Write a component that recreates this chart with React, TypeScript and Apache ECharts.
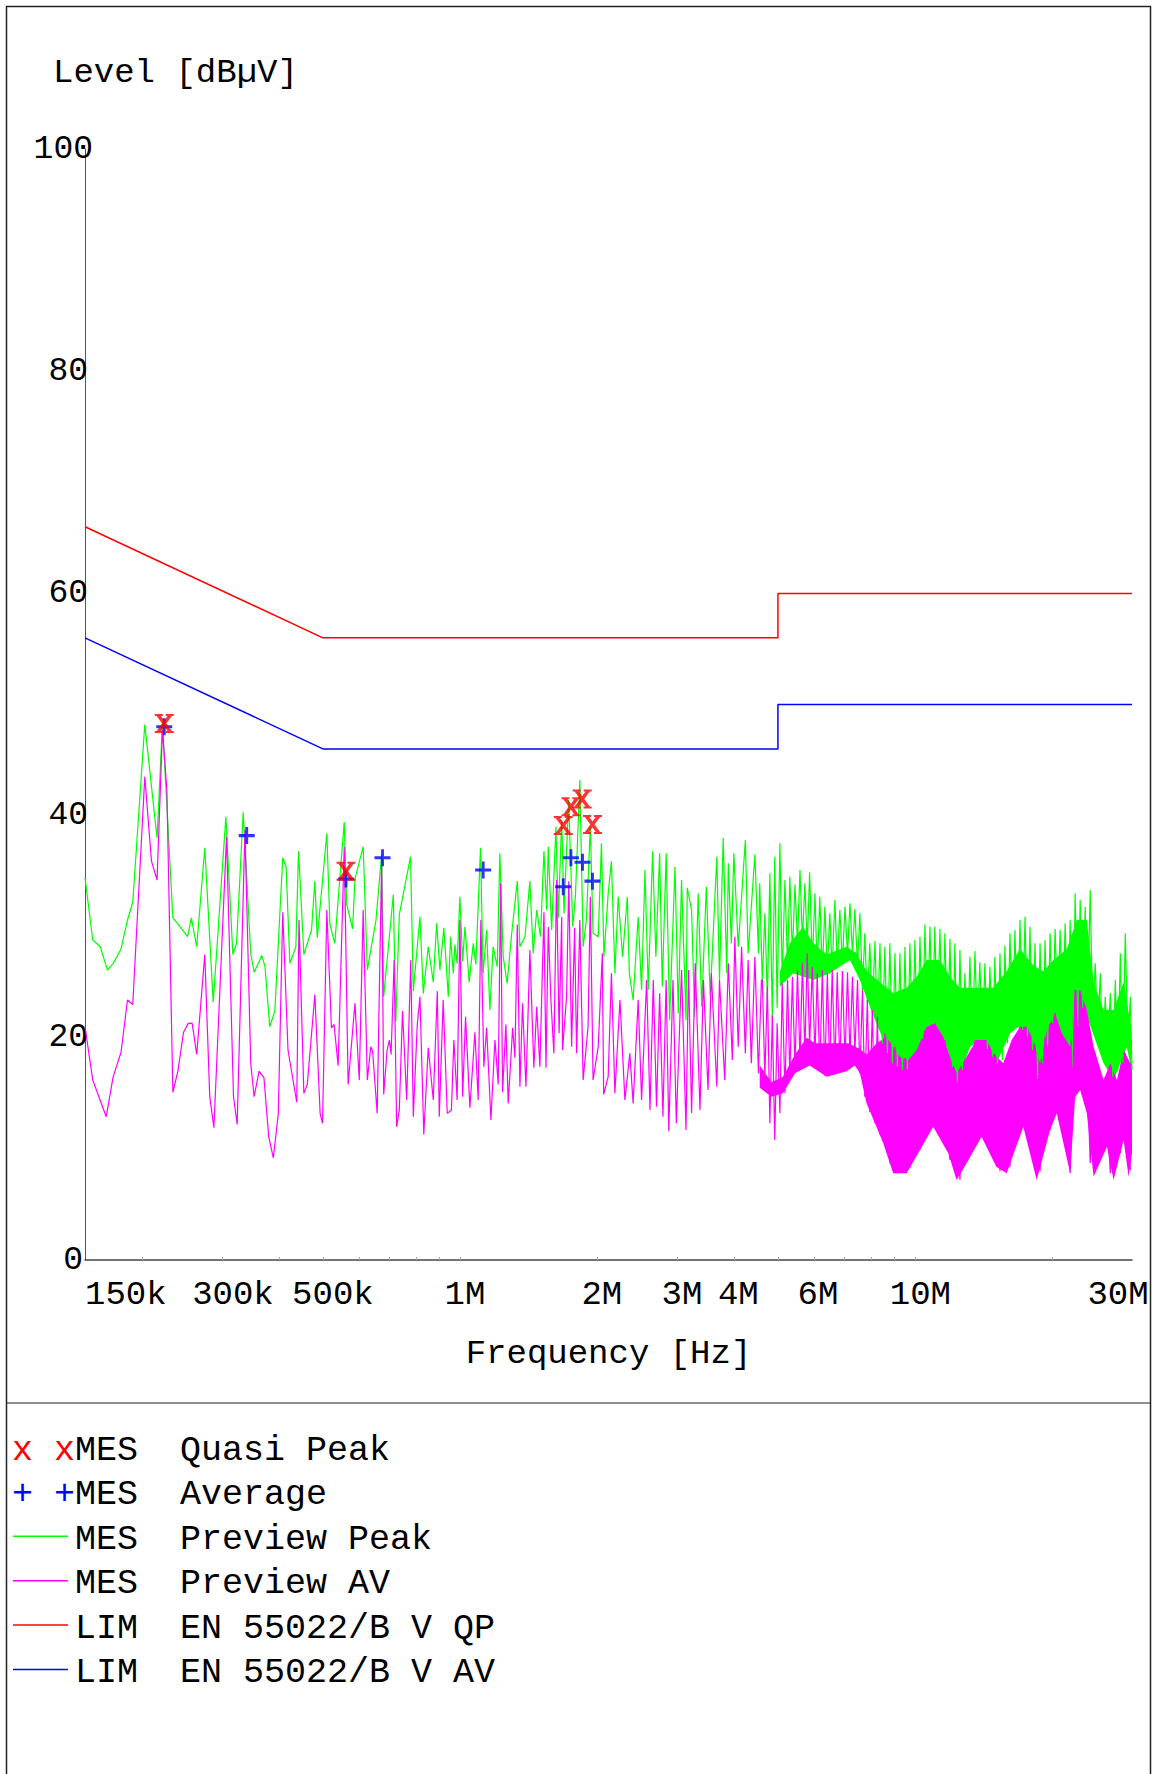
import React, { useEffect, useRef } from 'react';
import * as echarts from 'echarts';

// ---------- axis ticks ----------
const xTickHz = [150e3, 300e3, 500e3, 1e6, 2e6, 3e6, 4e6, 6e6, 10e6, 30e6];
const xTickText = ['150k', '300k', '500k', '1M', '2M', '3M', '4M', '6M', '10M', '30M'];
const xMinorTickHz = [200e3, 300e3, 400e3, 500e3, 600e3, 700e3, 800e3, 900e3, 1e6, 2e6, 3e6, 4e6, 5e6, 6e6, 7e6, 8e6, 9e6, 10e6, 20e6];

// ---------- limits (MHz, dBuV) ----------
const limitQP = [[0.15, 66], [0.5, 56], [5, 56], [5, 60], [30, 60]];
const limitAV = [[0.15, 56], [0.5, 46], [5, 46], [5, 50], [30, 50]];

// ---------- final measurements (MHz, dBuV) ----------
const qpMarks = [[0.224, 48.3], [0.562, 35.0], [1.687, 39.1], [1.754, 40.8], [1.857, 41.5], [1.956, 39.2]];
const avMarks = [[0.224, 48.0], [0.340, 38.2], [0.562, 34.3], [0.676, 36.2], [1.125, 35.1], [1.687, 33.6], [1.754, 36.2], [1.860, 35.8], [1.956, 34.1]];

// ---------- preview peak trace (MHz, dBuV) ----------
const previewPeak = [
  [0.150, 34.4], [0.156, 28.8], [0.162, 28.2], [0.168, 26.1], [0.173, 26.7], [0.180, 28.0], [0.186, 30.6], [0.191, 32.2], [0.203, 48.2], [0.216, 38.0],
  [0.222, 48.3], [0.234, 30.8], [0.2425, 30.0], [0.252, 29.1], [0.257, 30.8], [0.264, 28.2], [0.275, 37.1], [0.287, 23.2], [0.306, 39.9], [0.317, 27.5],
  [0.323, 28.5], [0.334, 40.3], [0.347, 27.6], [0.353, 25.9], [0.367, 27.4], [0.373, 26.4], [0.382, 21.0], [0.392, 22.4], [0.408, 36.2], [0.415, 35.4],
  [0.423, 26.7], [0.436, 28.2], [0.442, 36.8], [0.454, 27.5], [0.472, 29.7], [0.480, 34.1], [0.486, 29.0], [0.510, 38.4], [0.518, 30.2], [0.531, 28.5],
  [0.540, 32.4], [0.557, 39.4], [0.564, 32.0], [0.581, 29.8], [0.588, 34.3], [0.613, 37.2], [0.626, 26.1], [0.654, 30.6], [0.673, 36.5], [0.680, 23.7],
  [0.714, 32.9], [0.723, 21.5], [0.736, 31.1], [0.779, 36.3], [0.790, 24.2], [0.817, 30.9], [0.831, 24.0], [0.852, 28.2], [0.874, 25.0], [0.889, 30.3],
  [0.904, 26.1], [0.922, 29.9], [0.943, 23.7], [0.954, 29.1], [0.967, 25.8], [0.975, 28.4], [0.986, 26.7], [1.000, 32.7], [1.014, 26.9], [1.026, 30.0],
  [1.048, 25.0], [1.070, 28.5], [1.084, 26.6], [1.110, 37.1], [1.125, 25.8], [1.145, 29.7], [1.164, 22.5], [1.183, 28.2], [1.208, 26.4], [1.224, 36.6],
  [1.245, 27.3], [1.270, 24.9], [1.299, 29.3], [1.337, 34.1], [1.355, 28.2], [1.390, 29.1], [1.425, 34.1], [1.449, 27.6], [1.475, 31.5], [1.504, 29.1],
  [1.530, 36.8], [1.552, 31.5], [1.564, 37.2], [1.591, 29.7], [1.626, 39.0], [1.645, 30.8], [1.674, 39.6], [1.694, 31.2], [1.734, 41.4], [1.770, 30.0],
  [1.794, 32.7], [1.835, 43.2], [1.866, 28.2], [1.897, 30.6], [1.935, 39.0], [1.962, 29.4], [2.014, 29.1], [2.047, 37.5], [2.073, 27.3], [2.118, 33.0],
  [2.153, 35.9], [2.191, 25.8], [2.228, 32.7], [2.278, 27.3], [2.333, 32.7], [2.357, 25.8], [2.403, 23.4], [2.465, 30.9], [2.508, 24.3], [2.551, 35.1],
  [2.594, 24.3], [2.652, 36.8], [2.696, 27.3], [2.748, 36.6], [2.785, 24.6], [2.84, 36.6], [2.89, 21.6], [2.97, 35.4], [3.02, 22.2], [3.07, 34.2],
  [3.14, 21.6], [3.16, 33.5], [3.23, 31.5], [3.28, 21.9], [3.34, 33.0], [3.40, 22.8], [3.48, 33.6], [3.55, 23.7], [3.67, 36.3], [3.72, 25.2],
  [3.79, 38.0], [3.86, 25.8], [3.89, 35.7], [3.95, 28.5], [4.00, 36.6], [4.09, 28.2], [4.24, 37.8], [4.30, 27.6], [4.45, 36.5], [4.53, 27.6],
  [4.56, 33.9], [4.62, 24.9], [4.68, 31.2], [4.74, 23.4], [4.80, 34.8], [4.86, 21.6], [4.92, 36.3], [4.98, 22.7], [5.05, 37.5], [5.11, 25.2],
  [5.18, 34.2], [5.25, 26.4], [5.31, 34.5], [5.38, 27.5], [5.45, 33.8], [5.52, 28.5], [5.59, 35.1], [5.66, 28.8], [5.73, 33.9], [5.80, 28.3],
  [5.87, 34.9], [5.95, 26.7], [6.03, 33.0], [6.10, 25.9], [6.18, 32.7], [6.26, 25.8], [6.34, 31.8], [6.42, 26.0], [6.50, 31.2], [6.58, 26.2],
  [6.67, 32.4], [6.75, 26.5], [6.84, 31.5], [6.93, 26.8], [7.02, 31.8], [7.11, 27.5], [7.20, 32.1], [7.29, 27.6], [7.38, 31.6], [7.48, 26.4],
  [7.57, 31.2], [7.67, 24.3], [7.76, 29.4], [7.86, 23.2], [7.96, 28.5], [8.06, 22.2], [8.17, 28.7], [8.27, 21.0], [8.38, 28.5], [8.48, 19.5],
  [8.59, 28.2], [8.70, 18.6], [8.81, 28.5], [8.92, 17.7], [9.04, 27.6], [9.15, 17.4], [9.27, 27.6], [9.39, 17.1], [9.51, 28.2], [9.63, 17.2],
  [9.75, 28.5], [9.88, 18.9], [10.0, 28.8], [10.13, 19.2], [10.26, 29.1], [10.39, 19.9], [10.52, 30.2], [10.66, 21.0], [10.79, 30.0], [10.93, 21.3],
  [11.06, 30.0], [11.20, 21.1], [11.35, 29.8], [11.49, 20.7], [11.64, 29.4], [11.79, 19.4], [11.94, 28.9], [12.09, 17.4], [12.24, 28.5], [12.40, 16.0],
  [12.56, 27.9], [12.72, 17.1], [12.88, 25.8], [13.04, 18.6], [13.21, 27.3], [13.38, 19.7], [13.55, 27.8], [13.72, 20.4], [13.89, 26.8], [14.07, 19.9],
  [14.25, 26.7], [14.43, 19.0], [14.62, 26.4], [14.80, 18.3], [14.99, 27.3], [15.18, 17.7], [15.38, 27.6], [15.57, 18.0], [15.77, 28.3], [15.97, 19.5],
  [16.18, 29.4], [16.38, 20.6], [16.59, 29.7], [16.80, 21.0], [17.02, 30.6], [17.24, 20.7], [17.46, 30.9], [17.68, 20.1], [17.90, 30.0], [18.13, 18.9],
  [18.36, 28.5], [18.60, 16.3], [18.84, 28.5], [19.08, 17.7], [19.32, 28.8], [19.57, 19.2], [19.82, 29.4], [20.07, 21.3], [20.33, 29.8], [20.59, 22.0],
  [20.85, 29.7], [21.12, 21.9], [21.39, 30.3], [21.66, 20.4], [21.94, 30.6], [22.22, 17.4], [22.50, 33.0], [22.79, 21.0], [23.08, 32.4], [23.37, 22.7],
  [23.67, 31.8], [23.97, 22.5], [24.28, 33.3], [24.59, 21.6], [24.91, 26.7], [25.22, 19.8], [25.55, 25.8], [25.87, 18.0], [26.20, 23.7], [26.54, 18.9],
  [26.88, 24.0], [27.22, 16.5], [27.57, 25.2], [27.92, 17.1], [28.28, 27.6], [28.64, 17.7], [29.00, 29.4], [29.38, 18.9], [29.75, 23.7], [30.0, 17.1],
];
// solid core of the dense peak trace above 5 MHz
const peakCoreTop = [
  [5.05, 26.0], [5.31, 28.5], [5.68, 30.0], [5.98, 28.5], [6.40, 27.5], [7.08, 28.2], [7.44, 27.6], [7.83, 26.0], [8.38, 25.0], [8.96, 24.0],
  [9.59, 24.5], [10.09, 25.5], [10.61, 27.0], [11.35, 27.0], [11.94, 25.5], [12.56, 24.5], [13.21, 24.5], [13.89, 24.5], [14.86, 24.5], [15.91, 26.0],
  [17.02, 28.0], [18.21, 26.5], [19.15, 26.0], [20.16, 27.0], [21.57, 28.0], [22.69, 30.6], [23.87, 30.6], [24.70, 25.0], [25.98, 22.5], [27.33, 22.5],
  [28.75, 25.0], [29.86, 21.0],
];
const peakCoreBottom = [
  [5.05, 24.6], [5.40, 25.8], [5.98, 25.2], [6.50, 25.8], [7.20, 27.0], [7.57, 25.2], [8.17, 21.6], [8.96, 17.7], [9.59, 16.9], [10.26, 19.2],
  [10.97, 21.3], [11.74, 19.2], [12.35, 15.9], [13.21, 19.2], [14.13, 19.8], [15.10, 17.7], [16.18, 20.4], [16.87, 21.0], [18.21, 18.6], [18.67, 16.2],
  [20.16, 21.6], [22.31, 17.1], [23.47, 22.8], [25.98, 17.7], [27.33, 16.2], [29.24, 19.2], [29.86, 17.1],
];

// ---------- preview average trace (MHz, dBuV) ----------
const previewAV = [
  [0.150, 21.0], [0.156, 16.2], [0.167, 12.9], [0.173, 16.5], [0.180, 18.7], [0.186, 23.4], [0.191, 23.0], [0.203, 43.5], [0.210, 35.9], [0.216, 34.2],
  [0.222, 47.7], [0.227, 42.3], [0.234, 15.1], [0.240, 17.0], [0.247, 20.5], [0.253, 21.3], [0.258, 21.3], [0.264, 18.5], [0.275, 27.5], [0.282, 14.7],
  [0.288, 11.9], [0.307, 38.1], [0.318, 14.7], [0.324, 12.2], [0.337, 38.7], [0.347, 17.7], [0.353, 14.7], [0.362, 17.0], [0.371, 16.4], [0.380, 11.1],
  [0.389, 9.2], [0.399, 13.2], [0.408, 31.3], [0.419, 18.9], [0.438, 14.2], [0.443, 30.6], [0.454, 15.0], [0.462, 15.8], [0.480, 23.9], [0.493, 13.2],
  [0.499, 12.3], [0.510, 31.5], [0.522, 20.9], [0.529, 21.2], [0.540, 17.5], [0.557, 37.2], [0.568, 15.8], [0.588, 23.1], [0.601, 16.2], [0.613, 31.5],
  [0.626, 16.2], [0.637, 19.2], [0.643, 18.8], [0.658, 13.2], [0.673, 35.9], [0.680, 14.9], [0.692, 18.9], [0.700, 19.8], [0.706, 18.5], [0.717, 27.0],
  [0.726, 12.0], [0.736, 13.5], [0.748, 22.4], [0.764, 14.4], [0.780, 27.0], [0.790, 12.9], [0.806, 21.2], [0.817, 23.7], [0.833, 11.3], [0.852, 19.1],
  [0.874, 14.4], [0.892, 24.2], [0.901, 12.9], [0.919, 23.4], [0.938, 13.2], [0.958, 13.5], [0.970, 19.8], [0.986, 14.4], [1.000, 30.6], [1.014, 14.7],
  [1.029, 21.9], [1.052, 13.7], [1.079, 20.5], [1.097, 14.4], [1.112, 30.6], [1.129, 17.4], [1.145, 20.9], [1.170, 12.6], [1.194, 19.8], [1.214, 15.8],
  [1.229, 33.9], [1.241, 15.1], [1.262, 21.2], [1.277, 14.1], [1.306, 20.9], [1.321, 18.2], [1.337, 30.2], [1.355, 15.6], [1.373, 23.1], [1.397, 15.6],
  [1.425, 27.9], [1.454, 17.3], [1.475, 22.8], [1.499, 17.4], [1.530, 31.3], [1.546, 17.3], [1.564, 30.0], [1.585, 23.4], [1.609, 18.6], [1.631, 34.2],
  [1.652, 20.4], [1.674, 30.9], [1.681, 18.9], [1.716, 23.7], [1.735, 34.1], [1.760, 19.2], [1.787, 29.9], [1.805, 18.6], [1.835, 30.6], [1.866, 16.2],
  [1.913, 21.0], [1.935, 32.7], [1.962, 16.2], [2.014, 19.2], [2.056, 27.6], [2.070, 14.9], [2.118, 16.5], [2.153, 25.8], [2.191, 15.0], [2.248, 23.4],
  [2.305, 14.4], [2.363, 18.6], [2.403, 14.1], [2.465, 23.4], [2.508, 14.4], [2.573, 25.2], [2.617, 13.5], [2.661, 25.2], [2.705, 13.8], [2.748, 24.0],
  [2.794, 12.9], [2.840, 25.2], [2.878, 11.6], [2.94, 25.2], [2.99, 12.3], [3.07, 26.1], [3.14, 11.7], [3.18, 26.1], [3.23, 13.2], [3.29, 26.7],
  [3.37, 13.5], [3.43, 25.2], [3.51, 15.3], [3.57, 25.8], [3.67, 15.6], [3.72, 25.2], [3.82, 16.2], [3.89, 26.7], [3.97, 18.0], [4.02, 29.1],
  [4.09, 19.2], [4.16, 28.2], [4.24, 18.6], [4.30, 27.0], [4.37, 17.7], [4.45, 27.3], [4.53, 16.8], [4.60, 25.2],
  [4.62, 25.2], [4.68, 16.5], [4.74, 24.6], [4.80, 12.3], [4.86, 22.0], [4.92, 10.8], [4.98, 21.3], [5.05, 13.2], [5.11, 24.9], [5.18, 15.0],
  [5.25, 25.2], [5.31, 16.5], [5.38, 25.5], [5.45, 17.4], [5.52, 26.1], [5.59, 17.9], [5.66, 26.7], [5.73, 18.6], [5.80, 27.6], [5.87, 19.2],
  [5.95, 26.4], [6.03, 18.3], [6.10, 25.8], [6.18, 17.0], [6.26, 26.1], [6.34, 16.6], [6.42, 25.8], [6.50, 17.0], [6.58, 26.1], [6.67, 17.3],
  [6.75, 25.9], [6.84, 17.6], [6.93, 26.0], [7.02, 17.9], [7.11, 25.9], [7.20, 18.3], [7.29, 25.5], [7.38, 18.6], [7.48, 25.2], [7.57, 16.8],
  [7.67, 24.3], [7.76, 14.7], [7.86, 23.4], [7.96, 13.3], [8.06, 22.5], [8.17, 12.3], [8.27, 21.9], [8.38, 11.3],
  [8.59, 20.4], [8.81, 8.7], [9.04, 19.2], [9.27, 8.1], [9.51, 18.2], [9.75, 8.3],
  [10.0, 18.6], [10.26, 9.9], [10.52, 20.7], [10.79, 11.9], [11.06, 21.3], [11.35, 11.7], [11.64, 19.8], [11.94, 9.0], [12.24, 17.1], [12.56, 7.2],
  [12.88, 18.0], [13.21, 9.6], [13.55, 19.8], [13.89, 11.0], [14.25, 19.8], [14.62, 10.2], [14.99, 18.5], [15.38, 8.0], [15.77, 18.0], [16.18, 8.4],
  [16.59, 20.1], [17.02, 11.6], [17.46, 21.0], [17.90, 10.2], [18.36, 19.4], [18.84, 8.0], [19.32, 20.1], [19.82, 11.7], [20.33, 22.2], [20.85, 12.6],
  [21.39, 19.9], [21.94, 7.8], [22.50, 24.3], [23.08, 15.3], [23.67, 22.9], [24.28, 8.7], [24.91, 18.6], [25.55, 9.6], [26.20, 16.5], [26.88, 7.8],
  [27.57, 16.4], [28.28, 9.6], [29.00, 18.6], [29.75, 8.1],
];
// solid band of the dense average trace above 4.5 MHz
const avCoreTop = [
  [4.56, 17.5], [4.84, 16.0], [5.13, 16.5], [5.45, 18.5], [5.78, 20.0], [6.03, 19.5], [6.50, 19.5], [7.14, 19.5], [7.57, 19.0], [7.83, 18.5],
  [8.24, 19.5], [8.66, 20.1], [9.27, 18.3], [9.67, 18.0], [10.09, 18.9], [10.61, 21.0], [11.06, 21.3], [11.54, 20.1], [11.94, 18.3], [12.35, 16.8],
  [12.99, 18.3], [13.66, 19.8], [14.37, 19.8], [14.86, 18.6], [15.64, 17.7], [16.32, 19.8], [17.02, 21.0], [17.61, 21.0], [18.21, 19.8], [18.84, 17.7],
  [19.49, 20.7], [20.33, 22.2], [21.03, 20.4], [21.94, 19.2], [22.50, 24.3], [23.08, 24.3], [23.87, 22.5], [24.70, 19.2], [25.98, 16.2], [26.88, 17.7],
  [27.80, 16.2], [28.75, 18.9], [29.75, 17.7], [30.0, 17.7],
];
const avCoreBottom = [
  [4.56, 15.5], [4.84, 14.7], [5.13, 15.0], [5.45, 16.8], [5.87, 17.5], [6.40, 16.5], [7.08, 17.0], [7.38, 17.5], [7.57, 16.8], [7.83, 14.1],
  [8.17, 12.3], [8.52, 10.5], [8.96, 7.8], [9.59, 7.8], [10.26, 9.9], [10.97, 12.0], [11.84, 9.6], [12.35, 7.2], [12.99, 8.7], [14.01, 11.1],
  [15.10, 8.4], [15.91, 7.8], [17.31, 12.0], [18.52, 7.2], [19.82, 11.7], [20.50, 13.2], [21.94, 7.8], [22.50, 14.7], [23.08, 15.3], [23.87, 13.2],
  [24.70, 7.5], [26.43, 10.2], [27.33, 7.2], [28.75, 10.8], [29.49, 7.5], [30.0, 9.6],
];

// ---------- legend texts ----------
const legendRows = [
  { marker: 'x x', color: '#ff0000', label: 'MES  Quasi Peak' },
  { marker: '+ +', color: '#0000ff', label: 'MES  Average' },
  { line: '#00ff00', label: 'MES  Preview Peak' },
  { line: '#ff00ff', label: 'MES  Preview AV' },
  { line: '#ff0000', label: 'LIM  EN 55022/B V QP' },
  { line: '#0000ff', label: 'LIM  EN 55022/B V AV' },
];

// ---------- styling ----------
const FONT = 'Liberation Mono, monospace';
const GREEN = '#00ff00';
const MAGENTA = '#ff00ff';
const RED = '#ff0000';
const BLUE = '#0000ff';
const xLabelShift = [0, 11, 10, 5, 5, 5, 4.5, 4, 5.5, -14];
const X_PATH = 'path://M2 2.5h4.5L18 17.5h-4.5zM13.5 2.5H18L6.5 17.5H2zM0 0.5h8.5v2H0zM11.5 0.5H20v2h-8.5zM0 17.5h8.5v2H0zM11.5 17.5H20v2h-8.5z';
const PLUS_PATH = 'path://M8.2 0h3.6v8.2H20v3.6h-8.2V20H8.2v-8.2H0V8.2h8.2z';

export default function App() {
  const ref = useRef<HTMLDivElement>(null);

  useEffect(() => {
    document.body.style.margin = '0';
    const chart = echarts.init(ref.current as HTMLDivElement, null, { renderer: 'svg' });
    const lx = (mhz: number) => Math.log10(mhz * 1e6);
    const toXY = (arr: number[][]) => arr.map(([f, v]) => [lx(f), v]);
    const tickLogs = xTickHz.map((h) => Math.log10(h));

    const xRich: Record<string, any> = {};
    xTickText.forEach((_, i) => {
      const s = xLabelShift[i];
      xRich['t' + i] = {
        fontFamily: FONT, fontSize: 34, color: '#000',
        padding: s >= 0 ? [0, 0, 0, 2 * s] : [0, -2 * s, 0, 0],
      };
    });

    const band = (top: number[][], bottom: number[][], color: string) => ({
      type: 'custom',
      silent: true,
      data: [[lx(top[0][0]), top[0][1]]],
      renderItem: (_p: any, api: any) => {
        const pts = [
          ...top.map(([f, v]) => api.coord([lx(f), v])),
          ...bottom.slice().reverse().map(([f, v]) => api.coord([lx(f), v])),
        ];
        return { type: 'polygon', shape: { points: pts }, style: { fill: color } };
      },
    });

    const graphics: any[] = [
      { type: 'rect', shape: { x: 6.5, y: 6.5, width: 1144, height: 1820 }, style: { fill: 'none', stroke: '#222', lineWidth: 1.5 }, silent: true },
      { type: 'line', shape: { x1: 6, y1: 1403, x2: 1151, y2: 1403 }, style: { stroke: '#222', lineWidth: 1.2 }, silent: true },
      { type: 'text', x: 53, y: 73, style: { text: 'Level [dBµV]', fontFamily: FONT, fontSize: 34, fill: '#000', verticalAlign: 'middle' }, silent: true },
    ];
    legendRows.forEach((row: any, i) => {
      const mid = 1451 + i * 44.4;
      if (row.marker) {
        graphics.push({
          type: 'text', x: 12, y: mid, silent: true,
          style: {
            text: `{m|${row.marker}}{k|${row.label}}`,
            verticalAlign: 'middle',
            rich: {
              m: { fontFamily: FONT, fontSize: 35, fill: row.color },
              k: { fontFamily: FONT, fontSize: 35, fill: '#000' },
            },
          },
        });
      } else {
        graphics.push({ type: 'line', silent: true, shape: { x1: 13, y1: mid - 3.5, x2: 68, y2: mid - 3.5 }, style: { stroke: row.line, lineWidth: 1.5 } });
        graphics.push({ type: 'text', x: 75, y: mid, silent: true, style: { text: row.label, fontFamily: FONT, fontSize: 35, fill: '#000', verticalAlign: 'middle' } });
      }
    });

    const option: any = {
      animation: false,
      backgroundColor: '#ffffff',
      grid: { left: 85, top: 149, width: 1047, height: 1111, containLabel: false, outerBoundsMode: 'none' },
      xAxis: {
        type: 'value',
        min: lx(0.15),
        max: lx(30),
        splitLine: { show: false },
        axisLine: { show: true, onZero: false, lineStyle: { color: '#444', width: 1.5 } },
        axisTick: { show: true, inside: true, length: 3, lineStyle: { color: '#aaa' }, customValues: xMinorTickHz.map((h) => Math.log10(h)) },
        axisLabel: {
          show: true,
          customValues: tickLogs,
          margin: 18,
          alignMinLabel: 'left',
          alignMaxLabel: 'center',
          hideOverlap: false,
          formatter: (v: number) => {
            let best = 0;
            tickLogs.forEach((t, i) => { if (Math.abs(t - v) < Math.abs(tickLogs[best] - v)) best = i; });
            return `{t${best}|${xTickText[best]}}`;
          },
          rich: xRich,
          fontFamily: FONT, fontSize: 34, color: '#000',
        },
        name: 'Frequency [Hz]',
        nameLocation: 'middle',
        nameGap: 77,
        nameTextStyle: { fontFamily: FONT, fontSize: 34, color: '#000' },
      },
      yAxis: {
        type: 'value',
        min: 0,
        max: 100,
        interval: 20,
        splitLine: { show: false },
        axisLine: { show: true, lineStyle: { color: '#555', width: 1 } },
        axisTick: { show: false },
        axisLabel: {
          margin: -8,
          formatter: (v: number) => (v === 100 ? `{a|${v}}` : v === 0 ? `{c|${v}}` : `{b|${v}}`),
          rich: {
            a: { fontFamily: FONT, fontSize: 33, color: '#000' },
            b: { fontFamily: FONT, fontSize: 33, color: '#000', padding: [0, 5, 0, 0] },
            c: { fontFamily: FONT, fontSize: 33, color: '#000', padding: [0, 10, 0, 0] },
          },
          fontFamily: FONT, fontSize: 33, color: '#000',
        },
      },
      graphic: graphics,
      series: [
        { name: 'MES Preview Peak core', ...band(peakCoreTop, peakCoreBottom, GREEN) },
        {
          name: 'MES Preview Peak', type: 'line', data: toXY(previewPeak), showSymbol: false, symbol: 'none',
          lineStyle: { color: GREEN, width: 1.2 }, silent: true,
        },
        { name: 'MES Preview AV core', ...band(avCoreTop, avCoreBottom, MAGENTA) },
        {
          name: 'MES Preview AV', type: 'line', data: toXY(previewAV), showSymbol: false, symbol: 'none',
          lineStyle: { color: MAGENTA, width: 1.2 }, silent: true,
        },
        {
          name: 'LIM EN 55022/B V QP', type: 'line', data: toXY(limitQP), showSymbol: false, symbol: 'none',
          lineStyle: { color: RED, width: 1.5 }, silent: true,
        },
        {
          name: 'LIM EN 55022/B V AV', type: 'line', data: toXY(limitAV), showSymbol: false, symbol: 'none',
          lineStyle: { color: BLUE, width: 1.5 }, silent: true,
        },
        {
          name: 'MES Average', type: 'scatter', data: toXY(avMarks), symbol: PLUS_PATH, symbolSize: [16, 17],
          itemStyle: { color: BLUE }, silent: true, z: 5,
        },
        {
          name: 'MES Quasi Peak', type: 'scatter', data: toXY(qpMarks), symbol: X_PATH, symbolSize: [19, 19],
          itemStyle: { color: RED }, silent: true, z: 6,
        },
      ],
    };

    chart.setOption(option);
    return () => chart.dispose();
  }, []);

  return <div ref={ref} style={{ width: 1157, height: 1774 }} />;
}
